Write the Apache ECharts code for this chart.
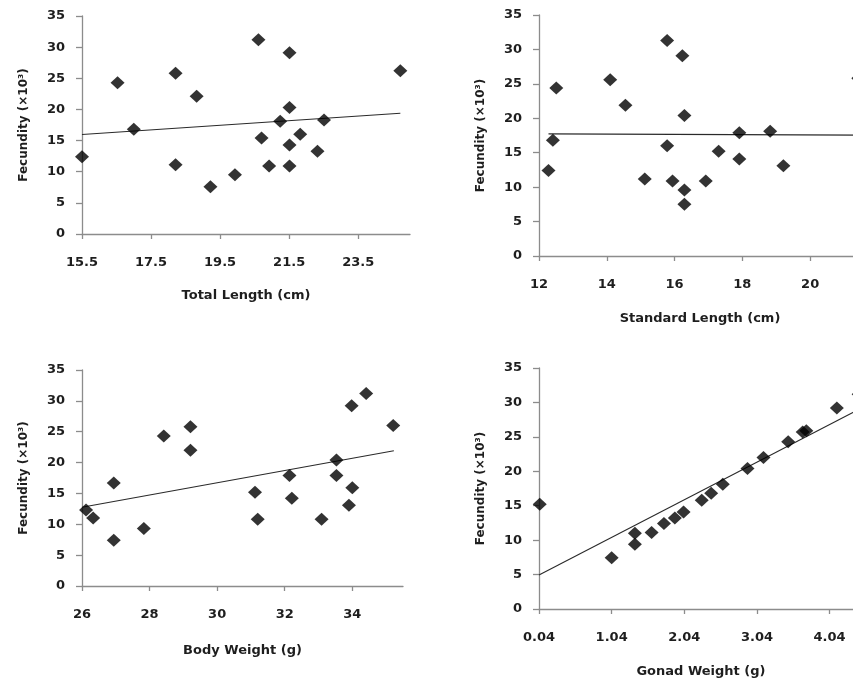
<!DOCTYPE html>
<html>
<head>
<meta charset="utf-8">
<script src="https://cdn.jsdelivr.net/npm/echarts@6/dist/echarts.min.js"></script>
<style>
html,body{margin:0;padding:0;background:#fff;overflow:hidden;width:853px;height:682px;}
#chart{width:900px;height:682px;}
</style>
</head>
<body>
<div id="chart"></div>
<script>
// ---- Data ----
// Panel 1: Total Length (cm)
var tlX = [15.5, 16.53, 17.0, 18.21, 18.21, 18.82, 19.22, 19.93, 20.61, 20.70, 20.92, 21.24, 21.51, 21.51, 21.51, 21.51, 21.82, 22.32, 22.51, 24.72];
var tlY = [12.4, 24.3, 16.8, 25.8, 11.1, 22.1, 7.6, 9.5, 31.2, 15.4, 10.9, 18.1, 29.1, 20.3, 14.3, 10.9, 16.0, 13.3, 18.3, 26.2];
var tlTrendX = [15.5, 24.72];
var tlTrendY = [15.98, 19.39];
var tlTicks = [15.5, 17.5, 19.5, 21.5, 23.5];

// Panel 2: Standard Length (cm)
var slX = [12.28, 12.41, 12.51, 14.10, 14.55, 15.12, 15.78, 15.78, 15.94, 16.23, 16.29, 16.29, 16.29, 16.92, 17.30, 17.91, 17.91, 18.82, 19.21, 21.42];
var slY = [12.4, 16.8, 24.4, 25.6, 21.9, 11.2, 31.3, 16.0, 10.9, 29.1, 20.4, 9.6, 7.5, 10.9, 15.2, 17.9, 14.1, 18.1, 13.1, 25.8];
var slTrendX = [12.28, 21.5];
var slTrendY = [17.74, 17.55];
var slTicks = [12, 14, 16, 18, 20];

// Panel 3: Body Weight (g)
var bwX = [26.12, 26.33, 26.94, 26.94, 27.83, 28.42, 29.21, 29.21, 31.12, 31.20, 32.14, 32.21, 33.09, 33.53, 33.53, 33.90, 33.98, 34.00, 34.41, 35.21];
var bwY = [12.3, 11.0, 16.7, 7.4, 9.3, 24.3, 25.8, 22.0, 15.2, 10.8, 17.9, 14.2, 10.8, 20.4, 17.9, 13.1, 29.2, 15.9, 31.2, 26.0];
var bwTrendX = [26.0, 35.23];
var bwTrendY = [12.76, 21.92];
var bwTicks = [26, 28, 30, 32, 34];

// Panel 4: Gonad Weight (g)
var gwX = [0.05, 1.04, 1.36, 1.36, 1.59, 1.76, 1.91, 2.03, 2.28, 2.41, 2.57, 2.91, 3.13, 3.47, 3.67, 3.72, 4.14, 4.44];
var gwY = [15.2, 7.45, 11.0, 9.4, 11.1, 12.4, 13.2, 14.1, 15.8, 16.8, 18.1, 20.4, 22.0, 24.3, 25.7, 25.9, 29.2, 31.2];
var gwTrendX = [0.04, 4.5];
var gwTrendY = [4.94, 29.3];
var gwTicks = [0.04, 1.04, 2.04, 3.04, 4.04];

var yTitle = 'Fecundity (\u00d710\u00b3)';
var xTitles = ['Total Length (cm)', 'Standard Length (cm)', 'Body Weight (g)', 'Gonad Weight (g)'];

// ---- Chart construction ----
function zip(a, b) { return a.map(function (v, i) { return [v, b[i]]; }); }

var FONT = 'DejaVu Sans';
var TXT = '#1e1e1e';
var AX = '#8c8c8c';

// canvas is 900px wide; the window shows the left 853px (right panels are cut off as in the reference)
var panels = [
  {grid: {left: 82, top: 16, right: 490, bottom: 448}, min: 15.5, max: 25, ticks: tlTicks, dec: 1, pts: zip(tlX, tlY), trend: zip(tlTrendX, tlTrendY), nameGap: 55},
  {grid: {left: 539, top: 15, right: 39, bottom: 426}, min: 12, max: 21.5, ticks: slTicks, dec: 0, pts: zip(slX, slY), trend: zip(slTrendX, slTrendY), nameGap: 56},
  {grid: {left: 82, top: 370, right: 497, bottom: 96}, min: 26, max: 35.5, ticks: bwTicks, dec: 0, pts: zip(bwX, bwY), trend: zip(bwTrendX, bwTrendY), nameGap: 58},
  {grid: {left: 539, top: 368, right: 37, bottom: 73}, min: 0.04, max: 4.5, ticks: gwTicks, dec: 2, pts: zip(gwX, gwY), trend: zip(gwTrendX, gwTrendY), nameGap: 56}
];

var option = {
  backgroundColor: '#ffffff',
  animation: false,
  grid: [], xAxis: [], yAxis: [], series: []
};

panels.forEach(function (p, i) {
  option.grid.push(Object.assign({containLabel: false}, p.grid));
  option.xAxis.push({
    type: 'value', gridIndex: i, min: p.min, max: p.max,
    name: xTitles[i], nameLocation: 'middle', nameGap: p.nameGap,
    nameTextStyle: {fontFamily: FONT, fontWeight: 'bold', fontSize: 13, color: TXT},
    axisLine: {show: true, onZero: false, lineStyle: {color: AX, width: 1.3}},
    axisTick: {show: true, inside: false, length: 5, customValues: p.ticks, lineStyle: {color: AX, width: 1.3}},
    axisLabel: {show: true, margin: 22, customValues: p.ticks, fontFamily: FONT, fontWeight: 'bold', fontSize: 13, color: TXT,
      formatter: (function (d) { return function (v) { return v.toFixed(d); }; })(p.dec)},
    splitLine: {show: false}
  });
  option.yAxis.push({
    type: 'value', gridIndex: i, min: 0, max: 35, interval: 5,
    name: yTitle, nameLocation: 'middle', nameGap: 52, nameRotate: 90,
    nameTextStyle: {fontFamily: FONT, fontWeight: 'bold', fontSize: 12, color: TXT},
    axisLine: {show: true, onZero: false, lineStyle: {color: AX, width: 1.3}},
    axisTick: {show: true, inside: false, length: 6, lineStyle: {color: AX, width: 1.3}},
    axisLabel: {show: true, margin: 17, fontFamily: FONT, fontWeight: 'bold', fontSize: 13, color: TXT},
    splitLine: {show: false}
  });
  option.series.push({
    type: 'line', xAxisIndex: i, yAxisIndex: i, data: p.trend,
    symbol: 'none', lineStyle: {color: '#2a2a2a', width: 1.1}, z: 2, silent: true
  });
  option.series.push({
    type: 'scatter', xAxisIndex: i, yAxisIndex: i, data: p.pts,
    symbol: 'diamond', symbolSize: [14, 13], itemStyle: {color: '#000000'}, z: 3, clip: false
  });
});

var chart = echarts.init(document.getElementById('chart'), null, {renderer: 'canvas'});
chart.setOption(option);
</script>
</body>
</html>
